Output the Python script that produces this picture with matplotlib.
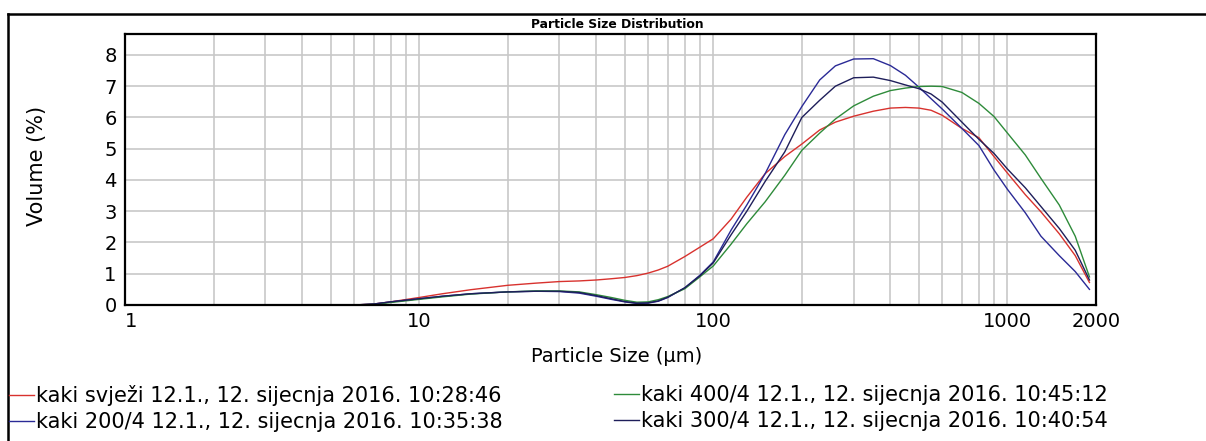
import matplotlib.pyplot as plt
from matplotlib.lines import Line2D
from matplotlib.ticker import LogLocator, NullFormatter

# particle size bins (um)
sizes = [6, 7, 8, 10, 12, 15, 20, 25, 30, 35, 40, 45, 50, 55, 60, 65, 70, 80, 90, 100,
         115, 130, 150, 175, 200, 230, 260, 300, 350, 400, 450, 500, 550, 600, 700, 800,
         900, 1000, 1150, 1300, 1500, 1700, 1900]

# volume (%)
svjezi = [0.0, 0.03, 0.1, 0.24, 0.36, 0.49, 0.63, 0.7, 0.75, 0.77, 0.8, 0.84, 0.88, 0.94, 1.02,
          1.12, 1.24, 1.55, 1.85, 2.12, 2.75, 3.45, 4.2, 4.75, 5.15, 5.6, 5.85, 6.04, 6.2, 6.3,
          6.32, 6.3, 6.23, 6.07, 5.65, 5.35, 4.75, 4.22, 3.53, 2.98, 2.28, 1.58, 0.72]
k200 = [0.0, 0.03, 0.1, 0.2, 0.28, 0.36, 0.42, 0.44, 0.43, 0.38, 0.28, 0.18, 0.1, 0.05, 0.06,
        0.12, 0.24, 0.55, 0.95, 1.38, 2.4, 3.2, 4.2, 5.45, 6.35, 7.2, 7.65, 7.87, 7.88, 7.66,
        7.35, 6.97, 6.6, 6.27, 5.65, 5.1, 4.32, 3.7, 2.95, 2.2, 1.58, 1.07, 0.5]
k300 = [0.0, 0.03, 0.1, 0.2, 0.28, 0.36, 0.42, 0.44, 0.44, 0.4, 0.3, 0.2, 0.11, 0.06, 0.07,
        0.13, 0.25, 0.55, 0.93, 1.35, 2.25, 3.0, 3.95, 4.9, 6.0, 6.55, 7.0, 7.27, 7.29, 7.18,
        7.04, 6.92, 6.75, 6.49, 5.85, 5.3, 4.85, 4.35, 3.75, 3.15, 2.45, 1.75, 0.8]
k400 = [0.0, 0.02, 0.08, 0.18, 0.26, 0.35, 0.42, 0.45, 0.45, 0.42, 0.33, 0.24, 0.15, 0.09, 0.1,
        0.17, 0.27, 0.52, 0.9, 1.25, 1.95, 2.6, 3.3, 4.15, 4.95, 5.5, 5.95, 6.37, 6.68, 6.86,
        6.94, 6.99, 7.0, 6.99, 6.8, 6.45, 6.03, 5.5, 4.8, 4.05, 3.2, 2.2, 0.9]

labels = ["kaki svježi 12.1., 12. sijecnja 2016. 10:28:46",
          "kaki 200/4 12.1., 12. sijecnja 2016. 10:35:38",
          "kaki 400/4 12.1., 12. sijecnja 2016. 10:45:12",
          "kaki 300/4 12.1., 12. sijecnja 2016. 10:40:54"]
colors = ["#d8322e", "#2a2a96", "#2e8b3a", "#1e1e5a"]

W, H = 1206, 441
fig = plt.figure(figsize=(W / 100, H / 100), dpi=100)
ax = fig.add_axes([125 / W, 1 - 305 / H, 971 / W, 271 / H])

lines = []
for vals, c in zip([svjezi, k200, k400, k300], colors):
    ln, = ax.plot(sizes, vals, color=c, lw=1.0)
    lines.append(ln)

ax.set_xscale("log")
ax.set_xlim(1, 2000)
ax.set_ylim(0, 8.67)
ax.set_xticks([1, 10, 100, 1000, 2000])
ax.set_xticklabels(["1", "10", "100", "1000", "2000"])
ax.xaxis.set_minor_locator(LogLocator(base=10, subs=range(2, 10)))
ax.xaxis.set_minor_formatter(NullFormatter())
ax.set_yticks(range(0, 9))
ax.grid(which="both", axis="x", color="#c8c8c8", lw=1.2)
ax.grid(which="major", axis="y", color="#c8c8c8", lw=1.2)
ax.set_axisbelow(True)
ax.tick_params(which="both", length=0, labelsize=14)
ax.tick_params(axis="x", pad=5)
ax.tick_params(axis="y", pad=6)
ax.get_xticklabels()[0].set_ha("left")
for sp in ax.spines.values():
    sp.set_linewidth(1.6)

fig.text(617 / W, 1 - 24 / H, "Particle Size Distribution", ha="center", va="center",
         fontsize=8.9, fontweight="bold")
fig.text(617 / W, 1 - 356 / H, "Particle Size (µm)", ha="center", va="center", fontsize=14)
fig.text(37 / W, 1 - 166 / H, "Volume (%)", ha="center", va="center", rotation=90, fontsize=15)

# outer frame (left and top edges only visible)
fig.add_artist(Line2D([8 / W, 8 / W], [0, 1 - 14 / H], transform=fig.transFigure, color="black", lw=1.8))
fig.add_artist(Line2D([8 / W, 1], [1 - 14 / H, 1 - 14 / H], transform=fig.transFigure, color="black", lw=1.8))

leg_kw = dict(loc="upper left", frameon=False, fontsize=15, handlelength=1.2,
              handletextpad=0.1, labelspacing=0.31, borderpad=0, borderaxespad=0)
fig.legend([lines[0], lines[1]], labels[:2], bbox_to_anchor=(9 / W, 1 - 385 / H), **leg_kw)
fig.legend([lines[2], lines[3]], labels[2:], bbox_to_anchor=(614 / W, 1 - 385 / H), **leg_kw)

fig.savefig("out.png", dpi=100)
